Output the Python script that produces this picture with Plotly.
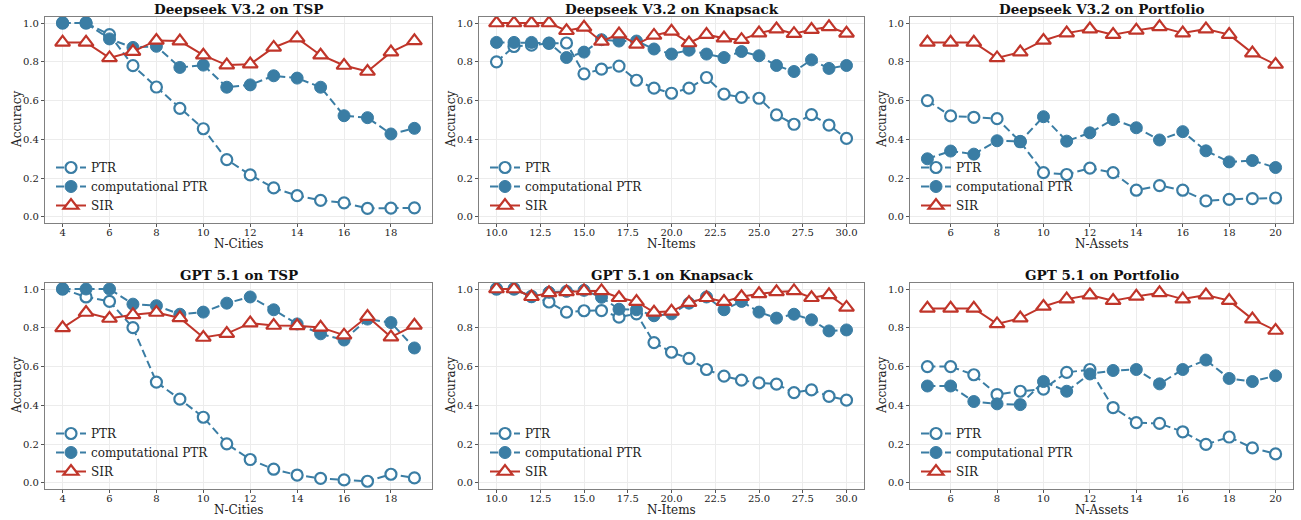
import plotly.graph_objects as go

# ---------------- data ----------------
tsp_x = list(range(4, 20))
knap_x = list(range(10, 31))
port_x = list(range(5, 21))

ds_tsp_ptr = [1.0, 1.0, 0.94, 0.78, 0.67, 0.56, 0.455, 0.296, 0.217, 0.15, 0.11, 0.086, 0.073, 0.044, 0.046, 0.047]
ds_tsp_comp = [1.0, 1.0, 0.918, 0.874, 0.88, 0.771, 0.783, 0.669, 0.681, 0.728, 0.716, 0.669, 0.522, 0.512, 0.428, 0.457]
ds_tsp_sir = [0.9, 0.9, 0.82, 0.853, 0.91, 0.907, 0.834, 0.783, 0.788, 0.874, 0.922, 0.834, 0.781, 0.75, 0.85, 0.908]

ds_knap_ptr = [0.8, 0.879, 0.886, 0.895, 0.897, 0.738, 0.762, 0.778, 0.705, 0.664, 0.638, 0.664, 0.719, 0.633, 0.617, 0.612, 0.526, 0.478, 0.528, 0.474, 0.405]
ds_knap_comp = [0.9, 0.9, 0.9, 0.897, 0.822, 0.85, 0.914, 0.907, 0.907, 0.866, 0.84, 0.86, 0.84, 0.822, 0.853, 0.831, 0.781, 0.75, 0.81, 0.766, 0.781]
ds_knap_sir = [1.0, 1.0, 1.0, 1.0, 0.96, 0.978, 0.905, 0.943, 0.89, 0.936, 0.957, 0.897, 0.94, 0.922, 0.914, 0.948, 0.969, 0.945, 0.966, 0.98, 0.947]

ds_port_ptr = [0.6, 0.521, 0.514, 0.507, 0.388, 0.229, 0.219, 0.252, 0.229, 0.138, 0.162, 0.138, 0.083, 0.091, 0.095, 0.098]
ds_port_comp = [0.3, 0.34, 0.324, 0.393, 0.39, 0.517, 0.391, 0.434, 0.502, 0.46, 0.397, 0.44, 0.341, 0.284, 0.291, 0.255]
ds_port_sir = [0.9, 0.9, 0.9, 0.82, 0.85, 0.91, 0.948, 0.969, 0.94, 0.962, 0.98, 0.948, 0.969, 0.94, 0.845, 0.786]

gpt_tsp_ptr = [1.0, 0.959, 0.936, 0.801, 0.52, 0.432, 0.339, 0.202, 0.121, 0.071, 0.041, 0.024, 0.016, 0.009, 0.045, 0.026]
gpt_tsp_comp = [1.0, 1.0, 1.0, 0.922, 0.914, 0.87, 0.881, 0.927, 0.959, 0.893, 0.82, 0.769, 0.737, 0.845, 0.827, 0.696]
gpt_tsp_sir = [0.8, 0.879, 0.848, 0.867, 0.879, 0.851, 0.75, 0.77, 0.824, 0.812, 0.81, 0.802, 0.762, 0.858, 0.752, 0.813]

gpt_knap_ptr = [1.0, 1.0, 0.962, 0.933, 0.881, 0.888, 0.889, 0.855, 0.872, 0.724, 0.674, 0.642, 0.585, 0.551, 0.53, 0.516, 0.51, 0.466, 0.48, 0.447, 0.427]
gpt_knap_comp = [1.0, 1.0, 0.96, 0.983, 0.988, 0.993, 0.957, 0.896, 0.893, 0.862, 0.872, 0.927, 0.959, 0.893, 0.936, 0.881, 0.85, 0.87, 0.841, 0.784, 0.789]
gpt_knap_sir = [1.0, 1.0, 0.96, 0.98, 0.985, 0.99, 0.99, 0.955, 0.935, 0.88, 0.885, 0.93, 0.955, 0.935, 0.96, 0.975, 0.985, 0.99, 0.955, 0.97, 0.905]

gpt_port_ptr = [0.6, 0.6, 0.558, 0.456, 0.473, 0.484, 0.57, 0.585, 0.389, 0.311, 0.307, 0.264, 0.199, 0.237, 0.181, 0.15]
gpt_port_comp = [0.5, 0.5, 0.42, 0.408, 0.404, 0.523, 0.473, 0.562, 0.58, 0.585, 0.511, 0.585, 0.634, 0.539, 0.523, 0.553]
gpt_port_sir = [0.9, 0.9, 0.9, 0.82, 0.85, 0.91, 0.948, 0.969, 0.94, 0.962, 0.98, 0.948, 0.969, 0.94, 0.845, 0.786]

titles = ["Deepseek V3.2 on TSP", "Deepseek V3.2 on Knapsack", "Deepseek V3.2 on Portfolio",
          "GPT 5.1 on TSP", "GPT 5.1 on Knapsack", "GPT 5.1 on Portfolio"]
xlabels = ["N-Cities", "N-Items", "N-Assets"] * 2
series_names = ["PTR", "computational PTR", "SIR"]

panels = [
    (tsp_x, ds_tsp_ptr, ds_tsp_comp, ds_tsp_sir),
    (knap_x, ds_knap_ptr, ds_knap_comp, ds_knap_sir),
    (port_x, ds_port_ptr, ds_port_comp, ds_port_sir),
    (tsp_x, gpt_tsp_ptr, gpt_tsp_comp, gpt_tsp_sir),
    (knap_x, gpt_knap_ptr, gpt_knap_comp, gpt_knap_sir),
    (port_x, gpt_port_ptr, gpt_port_comp, gpt_port_sir),
]

# ---------------- style ----------------
W, H = 1301, 520
BLUE = "#3A7DA4"
RED = "#C0352A"
FONT = "DejaVu Serif"
TXT = "#222222"

col_px = [(45, 432), (479, 864), (910, 1293)]
row_px = [(17, 223), (283, 489)]
xranges = [[3.25, 19.75], [9, 31], [4.25, 20.75]]
xticks = [
    ([4, 6, 8, 10, 12, 14, 16, 18], None),
    ([10, 12.5, 15, 17.5, 20, 22.5, 25, 27.5, 30],
     ["10.0", "12.5", "15.0", "17.5", "20.0", "22.5", "25.0", "27.5", "30.0"]),
    ([6, 8, 10, 12, 14, 16, 18, 20], None),
]

fig = go.Figure()
layout = dict(
    width=W, height=H,
    margin=dict(l=0, r=0, t=0, b=0, autoexpand=False),
    paper_bgcolor="white", plot_bgcolor="white",
    font=dict(family=FONT, color=TXT),
    showlegend=True,
    annotations=[],
)

for i, (xs, ptr, comp, sir) in enumerate(panels):
    r, c = divmod(i, 3)
    n = i + 1
    xa = "x" if n == 1 else f"x{n}"
    ya = "y" if n == 1 else f"y{n}"
    lg = "legend" if n == 1 else f"legend{n}"
    x0, x1 = col_px[c]
    t0, t1 = row_px[r]
    xdom = [x0 / W, x1 / W]
    ydom = [1 - t1 / H, 1 - t0 / H]

    common = dict(xaxis=xa, yaxis=ya, legend=lg, mode="lines+markers")
    fig.add_trace(go.Scatter(x=xs, y=ptr, name=series_names[0],
                             line=dict(color=BLUE, width=2, dash="8px,4px"),
                             marker=dict(symbol="circle", size=11, color="white",
                                         line=dict(color=BLUE, width=2.2)), **common))
    fig.add_trace(go.Scatter(x=xs, y=comp, name=series_names[1],
                             line=dict(color=BLUE, width=2, dash="8px,4px"),
                             marker=dict(symbol="circle", size=12, color=BLUE,
                                         line=dict(color=BLUE, width=1)), **common))
    fig.add_trace(go.Scatter(x=xs, y=sir, name=series_names[2],
                             line=dict(color=RED, width=2),
                             marker=dict(symbol="triangle-up", size=13, color="white",
                                         line=dict(color=RED, width=2.2)), **common))

    tv, tt = xticks[c]
    xkey = "xaxis" if n == 1 else f"xaxis{n}"
    ykey = "yaxis" if n == 1 else f"yaxis{n}"
    axis_common = dict(
        showline=True, linecolor="#808080", linewidth=1.2, mirror=True,
        ticks="outside", ticklen=3, tickcolor="#555555", tickwidth=1,
        showgrid=True, gridcolor="#ececec", gridwidth=1, zeroline=False,
        tickfont=dict(family=FONT, size=10, color=TXT),
        automargin=False,
    )
    layout[xkey] = dict(
        domain=xdom, anchor=ya, range=xranges[c],
        tickmode="array", tickvals=tv, ticktext=tt, ticklabelstandoff=-3,
        **axis_common,
    )
    layout[ykey] = dict(
        domain=ydom, anchor=xa, range=[-0.031, 1.031],
        tickmode="array", tickvals=[0, 0.2, 0.4, 0.6, 0.8, 1.0],
        ticktext=["0.0", "0.2", "0.4", "0.6", "0.8", "1.0"], **axis_common,
    )
    layout[lg] = dict(
        x=(x0 + 6) / W, y=1 - (t1 - 3) / H, xanchor="left", yanchor="bottom",
        bgcolor="rgba(255,255,255,0)", borderwidth=0,
        font=dict(family=FONT, size=12, color=TXT),
        tracegroupgap=0, itemwidth=30,
    )
    # subplot title
    layout["annotations"].append(dict(
        text=f"<b>{titles[i]}</b>", x=(x0 + x1) / 2 / W, y=1 - (t0 - 8) / H,
        xref="paper", yref="paper", xanchor="center", yanchor="middle",
        showarrow=False, font=dict(family=FONT, size=13.5, color="#111111"),
    ))
    # x-axis label
    layout["annotations"].append(dict(
        text=xlabels[i], x=(x0 + x1) / 2 / W, y=1 - (t1 + 21) / H,
        xref="paper", yref="paper", xanchor="center", yanchor="middle",
        showarrow=False, font=dict(family=FONT, size=12, color=TXT),
    ))
    # y-axis label
    layout["annotations"].append(dict(
        text="Accuracy", x=(x0 - 28) / W, y=1 - (t0 + t1) / 2 / H,
        xref="paper", yref="paper", xanchor="center", yanchor="middle",
        textangle=-90, showarrow=False, font=dict(family=FONT, size=12, color=TXT),
    ))

fig.update_layout(**layout)
fig.write_html("out.html", config={"displayModeBar": False},
               post_script="document.body.style.margin='0px';")
